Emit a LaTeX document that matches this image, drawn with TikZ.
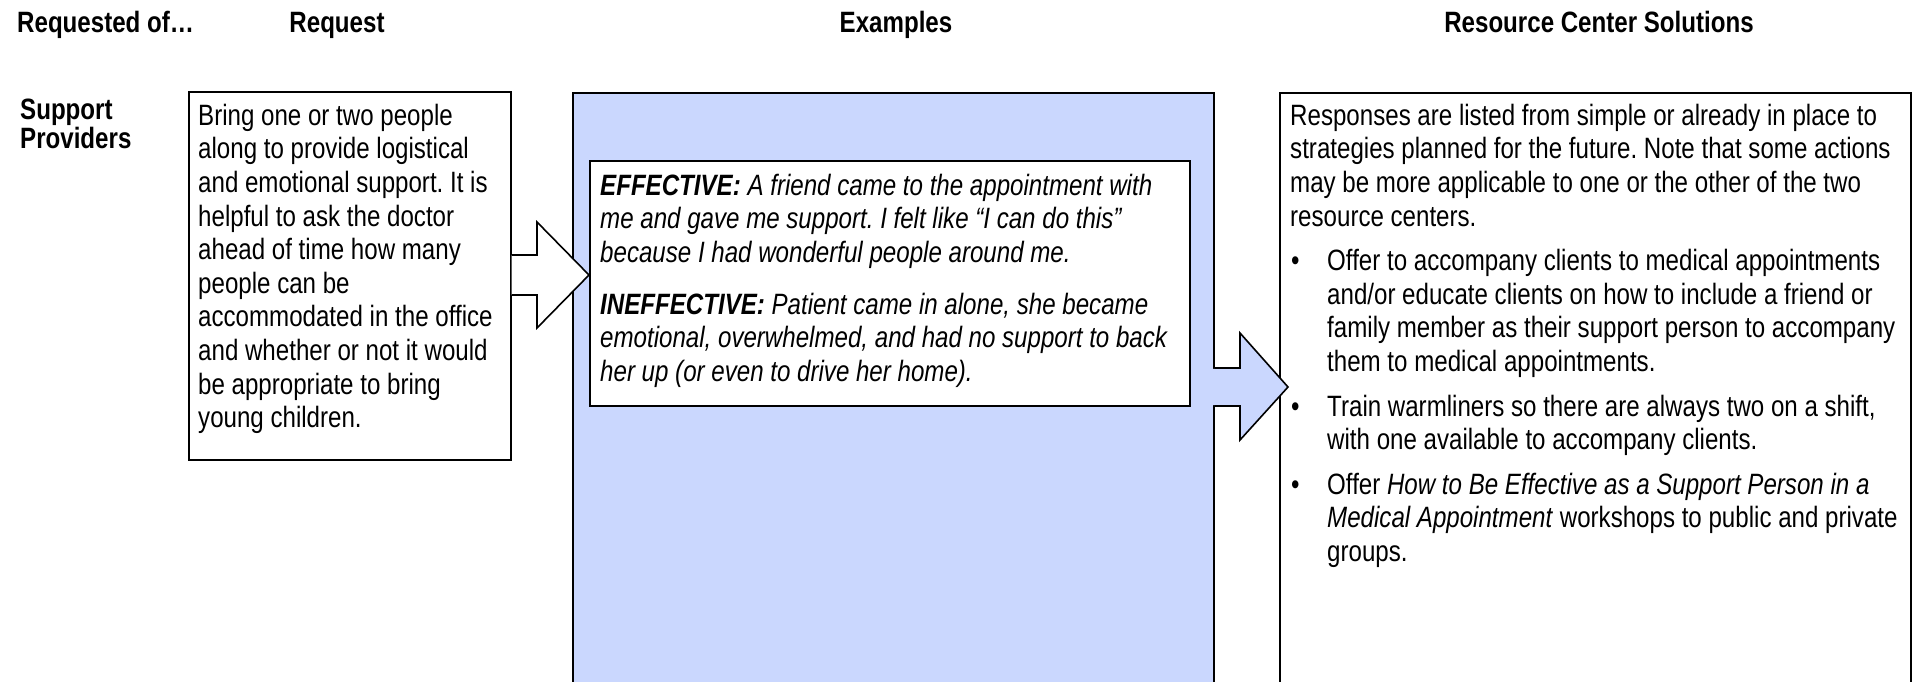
\documentclass[tikz,border=0pt]{standalone}
\usepackage{fontspec}
\setmainfont{Liberation Sans}[FakeStretch=0.82]
\usetikzlibrary{calc}
\definecolor{exfill}{RGB}{202,215,254}
\frenchspacing

\begin{document}
\begin{tikzpicture}[x=1pt,y=-1pt,
  body/.style={font=\fontsize{29.4}{33.6}\selectfont\frenchspacing, inner sep=0pt, anchor=north west, align=left},
  head/.style={font=\fontsize{29.4}{33.6}\selectfont\bfseries, inner sep=0pt},
  frame/.style={draw=black, line width=1.6pt, line join=miter},
  panel/.style={frame, anchor=north west, inner sep=0pt},
]
\newcommand{\topline}{\rule{0pt}{22pt}}
\useasboundingbox (0,0) rectangle (1921,681);
\clip (0,0) rectangle (1921,681);

% column headings
\node[head, anchor=base west] (hreqof) at (17,32) {Requested of…};
\node[head, anchor=base] (hreq) at (337,32) {Request};
\node[head, anchor=base] (hex) at (896,32) {Examples};
\node[head, anchor=base] (hsol) at (1599,32) {Resource Center Solutions};

% row label
\node[head, anchor=north west, align=left, font=\fontsize{29.4}{29}\selectfont\bfseries]
  (rowlab) at (20,97) {\topline Support\\Providers};

% panels
\node[panel, fill=exfill, minimum width=641pt, minimum height=620pt] (expanel) at (572,92) {};
\node[panel, fill=white, minimum width=600pt, minimum height=245pt] (exbox) at (589,160) {};
\node[panel, fill=white, minimum width=322pt, minimum height=368pt] (reqbox) at (188,91) {};

% block arrow: request -> examples
\draw[frame, fill=white] (reqbox.east |- 0,255) -- (537,255) -- (537,222) -- (exbox.west |- 0,275)
  -- (537,328) -- (537,295) -- (reqbox.east |- 0,295);

\node[panel, fill=white, minimum width=631pt, minimum height=620pt] (solbox) at (1279,92) {};

% block arrow: examples -> solutions
\fill[exfill] (1211,368.8) -- (1240,368.8) -- (1240,333) -- (1288,387) -- (1240,440)
  -- (1240,405.2) -- (1211,405.2) -- cycle;
\draw[frame] (expanel.east |- 0,368) -- (1240,368) -- (1240,333) -- (1288,387) -- (1240,440)
  -- (1240,406) -- (expanel.east |- 0,406);

% texts
\node[body] (reqtext) at (198,103) {\topline Bring one or two people\\
along to provide logistical\\
and emotional support. It is\\
helpful to ask the doctor\\
ahead of time how many\\
people can be\\
accommodated in the office\\
and whether or not it would\\
be appropriate to bring\\
young children.};

\node[body, font=\fontsize{29.4}{33.6}\selectfont\frenchspacing\itshape] (extext) at (600,173) {\topline\textbf{EFFECTIVE:} A friend came to the appointment with\\
me and gave me support. I felt like “I can do this”\\
because I had wonderful people around me.\\[18pt]
\textbf{INEFFECTIVE:} Patient came in alone, she became\\
emotional, overwhelmed, and had no support to back\\
her up (or even to drive her home).};

\node[body] (soltext) at (1290,103) {\topline Responses are listed from simple or already in place to\\
strategies planned for the future. Note that some actions\\
may be more applicable to one or the other of the two\\
resource centers.\\[11pt]
\makebox[37pt][l]{\hspace{1pt}•}Offer to accompany clients to medical appointments\\
\hspace*{37pt}and/or educate clients on how to include a friend or\\
\hspace*{37pt}family member as their support person to accompany\\
\hspace*{37pt}them to medical appointments.\\[11pt]
\makebox[37pt][l]{\hspace{1pt}•}Train warmliners so there are always two on a shift,\\
\hspace*{37pt}with one available to accompany clients.\\[11pt]
\makebox[37pt][l]{\hspace{1pt}•}Offer \textit{How to Be Effective as a Support Person in a}\\
\hspace*{37pt}\textit{Medical Appointment} workshops to public and private\\
\hspace*{37pt}groups.};
\end{tikzpicture}
\end{document}
